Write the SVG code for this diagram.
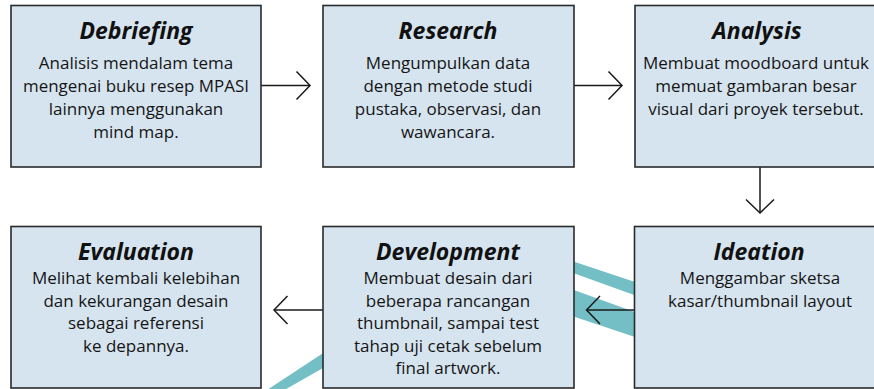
<svg xmlns="http://www.w3.org/2000/svg" width="874" height="389" viewBox="0 0 874 389">
<defs>
<style>
.box{fill:#d5e4ef;stroke:#2a2a2a;stroke-width:1.6}
.t{font-family:"Open Sans","Noto Sans",sans-serif;font-weight:700;font-style:italic;font-size:23px;fill:#111;text-anchor:middle}
.b{font-family:"Open Sans","Noto Sans",sans-serif;font-size:17px;fill:#151515;text-anchor:middle}
.wm{fill:#74bfc6}
.c{stroke:#1a1a1a;stroke-width:1.5;fill:none}
</style>
<marker id="ah" viewBox="-15 -16 17 32" markerWidth="17" markerHeight="32" refX="0" refY="0" markerUnits="userSpaceOnUse" orient="auto">
<path d="M-13.5,-14 L0,0 L-13.5,14" fill="none" stroke="#1a1a1a" stroke-width="1.5"/>
</marker>
</defs>
<rect width="874" height="389" fill="#ffffff"/>
<g id="watermark">
<polygon class="wm" points="560,257 650,287 650,300.8 560,268.2"/>
<polygon class="wm" points="560,284.9 650,317.5 650,342 560,312"/>
<polygon class="wm" points="255,397.9 330,348.6 330,364 255,406.8"/>
</g>
<g id="connectors">
<line class="c" x1="261" y1="85.5" x2="310" y2="85.5" marker-end="url(#ah)"/>
<line class="c" x1="574" y1="85.5" x2="622" y2="85.5" marker-end="url(#ah)"/>
<line class="c" x1="760" y1="167" x2="760" y2="213" marker-end="url(#ah)"/>
<line class="c" x1="634" y1="310" x2="586.5" y2="310" marker-end="url(#ah)"/>
<line class="c" x1="323" y1="310" x2="274" y2="310" marker-end="url(#ah)"/>
</g>
<g id="debriefing">
<rect class="box" x="11" y="5.5" width="250" height="161.5"/>
<text class="t" x="136" y="38.5">Debriefing</text>
<text class="b" x="136" y="68.5">Analisis mendalam tema</text>
<text class="b" x="136" y="91.5" textLength="226" lengthAdjust="spacingAndGlyphs">mengenai buku resep MPASI</text>
<text class="b" x="136" y="114.5">lainnya menggunakan</text>
<text class="b" x="136" y="137.5">mind map.</text>
</g>
<g id="research">
<rect class="box" x="323" y="5.5" width="251" height="161.5"/>
<text class="t" x="448" y="38.5">Research</text>
<text class="b" x="448" y="68.5">Mengumpulkan data</text>
<text class="b" x="448" y="91.5">dengan metode studi</text>
<text class="b" x="448" y="114.5">pustaka, observasi, dan</text>
<text class="b" x="448" y="137.5">wawancara.</text>
</g>
<g id="analysis">
<rect class="box" x="635" y="5.5" width="250" height="161.5"/>
<text class="t" x="757" y="38.5">Analysis</text>
<text class="b" x="756" y="68.5">Membuat moodboard untuk</text>
<text class="b" x="756" y="91.5">memuat gambaran besar</text>
<text class="b" x="756" y="114.5">visual dari proyek tersebut.</text>
</g>
<g id="evaluation">
<rect class="box" x="11" y="226.5" width="250" height="161.5"/>
<text class="t" x="136" y="260">Evaluation</text>
<text class="b" x="136" y="284">Melihat kembali kelebihan</text>
<text class="b" x="136" y="306.5">dan kekurangan desain</text>
<text class="b" x="136" y="329">sebagai referensi</text>
<text class="b" x="136" y="351.5">ke depannya.</text>
</g>
<g id="development">
<rect class="box" x="323" y="226.5" width="251" height="161.5"/>
<text class="t" x="448" y="260">Development</text>
<text class="b" x="448" y="284">Membuat desain dari</text>
<text class="b" x="448" y="306.5">beberapa rancangan</text>
<text class="b" x="448" y="329">thumbnail, sampai test</text>
<text class="b" x="448" y="351.5">tahap uji cetak sebelum</text>
<text class="b" x="448" y="374">final artwork.</text>
</g>
<g id="ideation">
<rect class="box" x="634.5" y="226.5" width="250" height="161.5"/>
<text class="t" x="759" y="260">Ideation</text>
<text class="b" x="760" y="284">Menggambar sketsa</text>
<text class="b" x="760" y="306.5">kasar/thumbnail layout</text>
</g>
</svg>
